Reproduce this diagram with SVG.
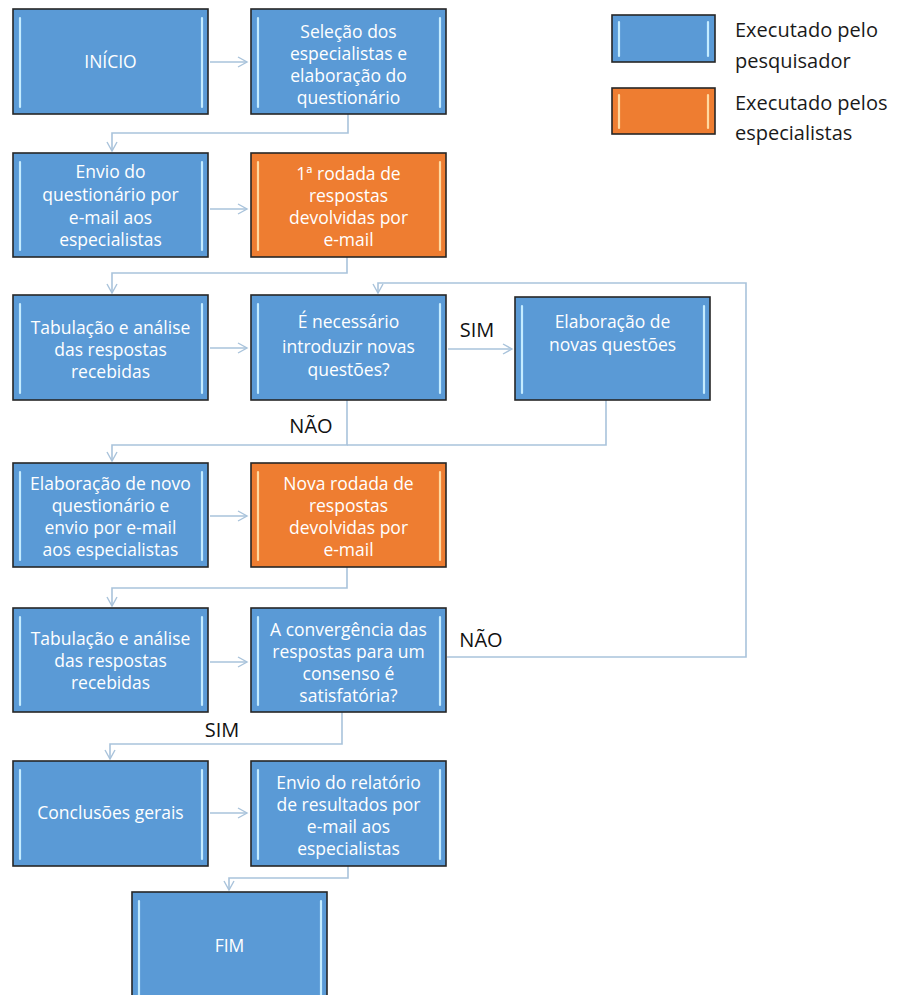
<svg xmlns="http://www.w3.org/2000/svg" width="914" height="995" viewBox="0 0 914 995">
<defs>
<style>
.bx{fill:#5a9ad6;stroke:#262626;stroke-width:1.6}
.or{fill:#ee7d31;stroke:#262626;stroke-width:1.6}
.hb{stroke:#c4ecff;stroke-width:2.2;stroke-linecap:round}
.ho{stroke:#ffd9a0;stroke-width:2.2;stroke-linecap:round}
.t{font-family:"Open Sans","Liberation Sans",sans-serif;font-size:17.5px;fill:#ffffff;text-anchor:middle}
.lg{font-family:"Open Sans","Liberation Sans",sans-serif;font-size:20px;fill:#1a1a1a}
.lb{font-family:"Open Sans","Liberation Sans",sans-serif;font-size:20px;fill:#111111;text-anchor:middle}
.c{fill:none;stroke:#a9c3db;stroke-width:1.6}
</style>
<marker id="ar" markerWidth="12" markerHeight="12" viewBox="0 0 12 12" refX="10" refY="6" orient="auto" markerUnits="userSpaceOnUse">
<path d="M1,1 L10,6 L1,11" fill="none" stroke="#a9c3db" stroke-width="1.4"/>
</marker>
</defs>
<rect width="914" height="995" fill="#ffffff"/>

<g id="connectors">
<path class="c" d="M210,62 H247" marker-end="url(#ar)"/>
<path class="c" d="M348,114 V133 H112 V151" marker-end="url(#ar)"/>
<path class="c" d="M210,209 H247" marker-end="url(#ar)"/>
<path class="c" d="M347,257 V273 H112 V293" marker-end="url(#ar)"/>
<path class="c" d="M210,348 H247" marker-end="url(#ar)"/>
<path class="c" d="M448,349 H512" marker-end="url(#ar)"/>
<path class="c" d="M347,400 V445 H112 V461" marker-end="url(#ar)"/>
<path class="c" d="M606,400 V445 H347"/>
<path class="c" d="M210,516 H247" marker-end="url(#ar)"/>
<path class="c" d="M347,567 V588 H112 V606" marker-end="url(#ar)"/>
<path class="c" d="M210,662 H247" marker-end="url(#ar)"/>
<path class="c" d="M447,657 H746 V283 H378 V293" marker-end="url(#ar)"/>
<path class="c" d="M342,712 V744 H110 V759" marker-end="url(#ar)"/>
<path class="c" d="M210,813 H247" marker-end="url(#ar)"/>
<path class="c" d="M348,866 V878 H229 V890" marker-end="url(#ar)"/>
</g>

<g id="labels">
<text class="lb" x="477" y="337">SIM</text>
<text class="lb" x="311" y="433">NÃO</text>
<text class="lb" x="481" y="647">NÃO</text>
<text class="lb" x="222" y="737">SIM</text>
</g>

<g id="legend">
<rect class="bx" x="612" y="15" width="103" height="47"/>
<line class="hb" x1="619" y1="22" x2="619" y2="56"/><line class="hb" x1="708" y1="22" x2="708" y2="56"/>
<rect class="or" x="612" y="88" width="103" height="46"/>
<line class="ho" x1="619" y1="95" x2="619" y2="128"/><line class="ho" x1="708" y1="95" x2="708" y2="128"/>
<text class="lg" x="735" y="37">Executado pelo</text>
<text class="lg" x="735" y="68">pesquisador</text>
<text class="lg" x="735" y="110">Executado pelos</text>
<text class="lg" x="735" y="140">especialistas</text>
</g>

<g id="inicio">
<rect class="bx" x="13" y="9" width="195" height="105"/>
<line class="hb" x1="20" y1="18" x2="20" y2="107"/><line class="hb" x1="202" y1="18" x2="202" y2="107"/>
<text class="t" x="110.5" y="68">INÍCIO</text>
</g>

<g id="selecao">
<rect class="bx" x="251" y="9" width="195" height="105"/>
<line class="hb" x1="258" y1="18" x2="258" y2="107"/><line class="hb" x1="440" y1="18" x2="440" y2="107"/>
<text class="t" x="348.5" y="38">Seleção dos</text>
<text class="t" x="348.5" y="60">especialistas e</text>
<text class="t" x="348.5" y="82">elaboração do</text>
<text class="t" x="348.5" y="104">questionário</text>
</g>

<g id="envio">
<rect class="bx" x="13" y="153" width="195" height="104"/>
<line class="hb" x1="20" y1="162" x2="20" y2="250"/><line class="hb" x1="202" y1="162" x2="202" y2="250"/>
<text class="t" x="110.5" y="178">Envio do</text>
<text class="t" x="110.5" y="201">questionário por</text>
<text class="t" x="110.5" y="224">e-mail aos</text>
<text class="t" x="110.5" y="246">especialistas</text>
</g>

<g id="rodada1">
<rect class="or" x="251" y="153" width="195" height="104"/>
<line class="ho" x1="258" y1="162" x2="258" y2="250"/><line class="ho" x1="440" y1="162" x2="440" y2="250"/>
<text class="t" x="348.5" y="180">1ª rodada de</text>
<text class="t" x="348.5" y="202">respostas</text>
<text class="t" x="348.5" y="224">devolvidas por</text>
<text class="t" x="348.5" y="246">e-mail</text>
</g>

<g id="tabulacao1">
<rect class="bx" x="13" y="295" width="195" height="105"/>
<line class="hb" x1="20" y1="304" x2="20" y2="393"/><line class="hb" x1="202" y1="304" x2="202" y2="393"/>
<text class="t" x="110.5" y="334">Tabulação e análise</text>
<text class="t" x="110.5" y="356">das respostas</text>
<text class="t" x="110.5" y="378">recebidas</text>
</g>

<g id="necessario">
<rect class="bx" x="251" y="295" width="195" height="105"/>
<line class="hb" x1="258" y1="304" x2="258" y2="393"/><line class="hb" x1="440" y1="304" x2="440" y2="393"/>
<text class="t" x="348.5" y="328">É necessário</text>
<text class="t" x="348.5" y="353">introduzir novas</text>
<text class="t" x="348.5" y="376">questões?</text>
</g>

<g id="novasquestoes">
<rect class="bx" x="515" y="297" width="195" height="103"/>
<line class="hb" x1="522" y1="306" x2="522" y2="393"/><line class="hb" x1="704" y1="306" x2="704" y2="393"/>
<text class="t" x="612.5" y="328">Elaboração de</text>
<text class="t" x="612.5" y="351">novas questões</text>
</g>

<g id="novoquestionario">
<rect class="bx" x="13" y="463" width="195" height="104"/>
<line class="hb" x1="20" y1="472" x2="20" y2="560"/><line class="hb" x1="202" y1="472" x2="202" y2="560"/>
<text class="t" x="110.5" y="490">Elaboração de novo</text>
<text class="t" x="110.5" y="512">questionário e</text>
<text class="t" x="110.5" y="534">envio por e-mail</text>
<text class="t" x="110.5" y="556">aos especialistas</text>
</g>

<g id="novarodada">
<rect class="or" x="251" y="463" width="195" height="104"/>
<line class="ho" x1="258" y1="472" x2="258" y2="560"/><line class="ho" x1="440" y1="472" x2="440" y2="560"/>
<text class="t" x="348.5" y="490">Nova rodada de</text>
<text class="t" x="348.5" y="512">respostas</text>
<text class="t" x="348.5" y="534">devolvidas por</text>
<text class="t" x="348.5" y="556">e-mail</text>
</g>

<g id="tabulacao2">
<rect class="bx" x="13" y="608" width="195" height="104"/>
<line class="hb" x1="20" y1="617" x2="20" y2="705"/><line class="hb" x1="202" y1="617" x2="202" y2="705"/>
<text class="t" x="110.5" y="645">Tabulação e análise</text>
<text class="t" x="110.5" y="667">das respostas</text>
<text class="t" x="110.5" y="689">recebidas</text>
</g>

<g id="convergencia">
<rect class="bx" x="251" y="608" width="195" height="104"/>
<line class="hb" x1="258" y1="617" x2="258" y2="705"/><line class="hb" x1="440" y1="617" x2="440" y2="705"/>
<text class="t" x="348.5" y="636">A convergência das</text>
<text class="t" x="348.5" y="658">respostas para um</text>
<text class="t" x="348.5" y="680">consenso é</text>
<text class="t" x="348.5" y="702">satisfatória?</text>
</g>

<g id="conclusoes">
<rect class="bx" x="13" y="761" width="195" height="105"/>
<line class="hb" x1="20" y1="770" x2="20" y2="859"/><line class="hb" x1="202" y1="770" x2="202" y2="859"/>
<text class="t" x="110.5" y="819">Conclusões gerais</text>
</g>

<g id="relatorio">
<rect class="bx" x="251" y="761" width="195" height="105"/>
<line class="hb" x1="258" y1="770" x2="258" y2="859"/><line class="hb" x1="440" y1="770" x2="440" y2="859"/>
<text class="t" x="348.5" y="789">Envio do relatório</text>
<text class="t" x="348.5" y="811">de resultados por</text>
<text class="t" x="348.5" y="833">e-mail aos</text>
<text class="t" x="348.5" y="855">especialistas</text>
</g>

<g id="fim">
<rect class="bx" x="132" y="892" width="195" height="110"/>
<line class="hb" x1="139" y1="901" x2="139" y2="995"/><line class="hb" x1="321" y1="901" x2="321" y2="995"/>
<text class="t" x="229.5" y="952">FIM</text>
</g>
</svg>
